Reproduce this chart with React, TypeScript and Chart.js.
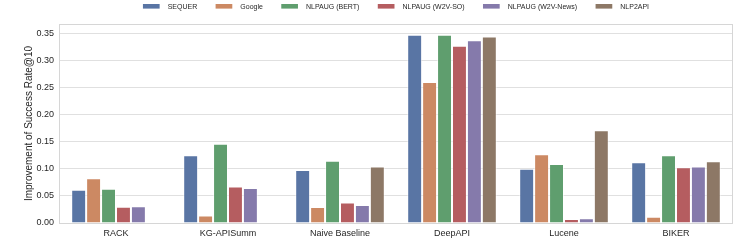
import React, { useEffect, useRef } from "react";
import { Chart, registerables } from "chart.js";

Chart.register(...registerables);

const categories = ["RACK", "KG-APISumm", "Naive Baseline", "DeepAPI", "Lucene", "BIKER"];
const seriesNames = ["SEQUER", "Google", "NLPAUG (BERT)", "NLPAUG (W2V-SO)", "NLPAUG (W2V-News)", "NLP2API"];
const sequer = [0.0614, 0.125, 0.0976, 0.347, 0.100, 0.112];
const google = [0.0823, 0.014, 0.0295, 0.260, 0.127, 0.0117];
const nlpaugBert = [0.0632, 0.146, 0.115, 0.347, 0.109, 0.125];
const nlpaugW2vSo = [0.030, 0.0675, 0.038, 0.327, 0.0074, 0.103];
const nlpaugW2vNews = [0.0307, 0.0645, 0.033, 0.337, 0.0086, 0.104];
const nlp2api = [0, 0, 0.104, 0.344, 0.171, 0.114];
const yTicks = [0, 0.05, 0.1, 0.15, 0.2, 0.25, 0.3, 0.35];
const colors = ["#5975a4", "#cc8963", "#5f9e6e", "#b55d60", "#857aab", "#8d7866"];

const FONT = "'Liberation Sans', Arial, Helvetica, sans-serif";

const framePlugin = {
  id: "frameAndLegend",
  afterDraw(chart: any) {
    const ctx = chart.ctx;
    const a = chart.chartArea;
    ctx.save();
    ctx.strokeStyle = "#d6d6d6";
    ctx.lineWidth = 1;
    ctx.strokeRect(Math.round(a.left) - 0.5, Math.round(a.top) + 0.5, Math.round(a.right - a.left) + 1, Math.round(a.bottom - a.top));
    // legend
    ctx.font = `7px ${FONT}`;
    const boxW = 16.7, boxH = 4.6, gapText = 8, gapItem = 18.4;
    const widths = seriesNames.map((n) => ctx.measureText(n).width);
    let total = 0;
    widths.forEach((w, i) => {
      total += boxW + gapText + w + (i < widths.length - 1 ? gapItem : 0);
    });
    let x = (a.left + a.right) / 2 - total / 2;
    const cy = 6.3;
    ctx.textBaseline = "middle";
    ctx.textAlign = "left";
    seriesNames.forEach((n, i) => {
      ctx.fillStyle = colors[i];
      ctx.fillRect(x, cy - boxH / 2, boxW, boxH);
      x += boxW + gapText;
      ctx.fillStyle = "#262626";
      ctx.fillText(n, x, cy + 0.5);
      x += widths[i] + gapItem;
    });
    ctx.restore();
  },
};

export default function App() {
  const ref = useRef<HTMLCanvasElement>(null);
  useEffect(() => {
    document.body.style.margin = "0";
    const seriesData = [sequer, google, nlpaugBert, nlpaugW2vSo, nlpaugW2vNews, nlp2api];
    const chart = new Chart(ref.current!, {
      type: "bar",
      data: {
        labels: categories,
        datasets: seriesNames.map((name, i) => ({
          label: name,
          data: seriesData[i],
          backgroundColor: colors[i],
          borderColor: "rgba(255,255,255,0.55)",
          borderWidth: 1,
          categoryPercentage: 0.8,
          barPercentage: 1,
        })),
      },
      options: {
        responsive: false,
        animation: false,
        devicePixelRatio: 1,
        layout: { padding: { top: 24, right: 15, left: 0, bottom: 0 } },
        plugins: {
          legend: { display: false },
          tooltip: { enabled: false },
        },
        scales: {
          x: {
            grid: { display: false, drawTicks: false },
            border: { display: false },
            ticks: { color: "#262626", font: { family: FONT, size: 9 }, padding: 5, maxRotation: 0 },
            afterFit: (s: any) => { s.height = 26; },
          },
          y: {
            min: 0,
            max: 0.367,
            grid: { color: "#e0e0e0", lineWidth: 1, drawTicks: false },
            border: { display: false },
            afterBuildTicks: (s: any) => { s.ticks = yTicks.map((v) => ({ value: v })); },
            ticks: {
              color: "#262626",
              font: { family: FONT, size: 9 },
              padding: 6,
              callback: (v: any) => Number(v).toFixed(2),
            },
            title: {
              display: true,
              text: "Improvement of Success Rate@10",
              color: "#262626",
              font: { family: FONT, size: 10 },
              padding: { top: 23.5, bottom: 0 },
            },
            afterFit: (s: any) => { s.width = 60; },
          },
        },
      },
      plugins: [framePlugin],
    });
    return () => chart.destroy();
  }, []);
  return (
    <div style={{ width: 747, height: 249 }}>
      <canvas ref={ref} width={747} height={249} style={{ display: "block" }} />
    </div>
  );
}
